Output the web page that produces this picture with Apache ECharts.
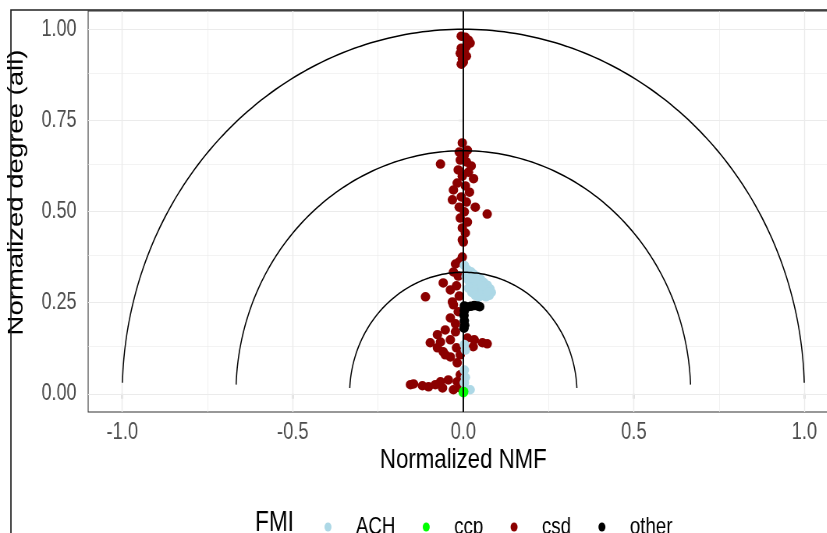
<!DOCTYPE html>
<html>
<head>
<meta charset="utf-8">
<script src="https://cdn.jsdelivr.net/npm/echarts@6/dist/echarts.min.js"></script>
<style>
  html, body { margin: 0; padding: 0; background: #ffffff; overflow: hidden; }
  #wrap { width: 827px; height: 533px; overflow: hidden; position: relative; }
  /* the figure is laid out wide and then narrowed horizontally */
  #chart { width: 1100px; height: 533px; transform: scaleX(0.78); transform-origin: 0 0; }
</style>
</head>
<body>
<div id="wrap"><div id="chart"></div></div>
<script>
const SX = 0.78; // horizontal squeeze applied to the figure

// Tick positions and gridlines
const xTicks = [-1.0, -0.5, 0.0, 0.5, 1.0];
const yTicks = [0.0, 0.25, 0.5, 0.75, 1.0];
const xMinorGrid = [-0.75, -0.25, 0.25, 0.75];
const yMinorGrid = [0.125, 0.375, 0.625, 0.875];

// Reference semicircles (radius) and the height at which each arc stops
const arcRadii = [1 / 3, 2 / 3, 1];
const arcEndHeights = [0.016, 0.025, 0.03];

// Legend order and colours
const groups = ['ACH', 'ccp', 'csd', 'other'];
const groupColors = { ACH: '#ADD8E6', ccp: '#00FF00', csd: '#8B0000', other: '#000000' };

// Points per FMI group: [normalized NMF, normalized degree]
const csdPoints = [
  [-0.006, 0.981], [0.006, 0.978], [0.015, 0.970], [0.020, 0.962], [0.009, 0.953],
  [-0.006, 0.948], [0.003, 0.940], [-0.009, 0.934], [0.009, 0.926], [-0.003, 0.918],
  [0.000, 0.910], [-0.006, 0.904],
  [-0.003, 0.688], [0.012, 0.668], [-0.012, 0.663], [0.003, 0.655], [-0.067, 0.630],
  [0.023, 0.625], [-0.009, 0.641], [0.009, 0.636], [-0.015, 0.614], [0.015, 0.608],
  [-0.003, 0.597], [0.030, 0.590], [-0.018, 0.578], [0.006, 0.570], [-0.029, 0.559],
  [0.018, 0.553], [-0.032, 0.532], [-0.006, 0.540], [0.009, 0.526], [-0.012, 0.512],
  [0.035, 0.512], [0.070, 0.493], [0.003, 0.499], [-0.009, 0.482], [0.012, 0.471],
  [-0.003, 0.455], [0.006, 0.441], [-0.003, 0.422],
  [0.000, 0.416], [-0.003, 0.375], [-0.023, 0.356], [-0.012, 0.362], [-0.029, 0.334],
  [-0.015, 0.323], [-0.059, 0.304], [-0.038, 0.285], [-0.111, 0.266], [-0.020, 0.296],
  [-0.032, 0.252], [-0.012, 0.268], [-0.029, 0.244], [-0.015, 0.225], [-0.038, 0.208],
  [-0.023, 0.192], [-0.053, 0.175], [-0.076, 0.162], [-0.023, 0.170], [-0.097, 0.140],
  [-0.038, 0.148], [-0.067, 0.142], [0.012, 0.153], [0.032, 0.148], [0.056, 0.140],
  [0.070, 0.137], [0.029, 0.129], [-0.059, 0.115], [-0.038, 0.101], [-0.009, 0.107],
  [-0.020, 0.126], [-0.076, 0.126], [-0.053, 0.107], [-0.018, 0.085], [-0.009, 0.052],
  [-0.044, 0.038], [-0.067, 0.033], [-0.082, 0.025], [-0.102, 0.019], [-0.120, 0.022],
  [-0.155, 0.025], [-0.146, 0.027], [-0.061, 0.016], [-0.029, 0.011], [-0.018, 0.033],
  [-0.009, 0.016]
];
const achPoints = [
  [0.003, 0.352], [0.012, 0.340], [0.022, 0.335], [0.030, 0.328], [0.040, 0.322],
  [0.050, 0.315], [0.060, 0.305], [0.070, 0.298], [0.078, 0.288], [0.082, 0.278],
  [0.076, 0.270], [0.066, 0.266], [0.056, 0.270], [0.046, 0.278], [0.036, 0.288],
  [0.026, 0.298], [0.016, 0.310], [0.008, 0.322], [0.015, 0.290], [0.025, 0.278],
  [0.035, 0.270], [0.045, 0.265], [0.055, 0.282], [0.065, 0.288], [0.072, 0.280],
  [0.045, 0.300], [0.035, 0.310], [0.025, 0.318], [0.055, 0.296], [0.020, 0.326],
  [0.003, 0.135], [0.006, 0.120], [0.003, 0.065], [0.006, 0.045], [0.003, 0.030],
  [0.020, 0.011], [0.006, 0.012]
];
const ccpPoints = [[0.001, 0.006], [0.000, 0.003]];
const otherPoints = [
  [0.003, 0.241], [0.012, 0.238], [0.022, 0.240], [0.032, 0.242], [0.042, 0.241],
  [0.048, 0.239], [0.003, 0.228], [0.002, 0.215], [0.003, 0.200], [0.004, 0.188],
  [0.002, 0.180]
];

// Semicircle outlines from their radii
function arcLine(r, endHeight) {
  const a0 = Math.asin(endHeight / r);
  const pts = [];
  const steps = 180;
  for (let i = 0; i <= steps; i++) {
    const a = a0 + (Math.PI - 2 * a0) * i / steps;
    pts.push([r * Math.cos(a), r * Math.sin(a)]);
  }
  return pts;
}

const FONT = 'Liberation Sans, Arial, sans-serif';
const gridColor = '#EBEBEB';
const gridLines = [];
xTicks.forEach(v => gridLines.push({ xAxis: v, lineStyle: { width: 1.3 } }));
xMinorGrid.forEach(v => gridLines.push({ xAxis: v, lineStyle: { width: 0.7 } }));
yTicks.forEach(v => gridLines.push({ yAxis: v, lineStyle: { width: 1.1 } }));
yMinorGrid.forEach(v => gridLines.push({ yAxis: v, lineStyle: { width: 0.6 } }));

const DOT = 9.5;
const pointSeries = (name, data) => ({
  name: name,
  type: 'scatter',
  data: data,
  symbol: 'circle',
  symbolSize: [DOT / SX, DOT],
  itemStyle: { color: groupColors[name], opacity: 1 },
  z: 5,
  silent: true,
  animation: false
});

const series = [
  {
    name: 'gridlines',
    type: 'scatter',
    data: [],
    silent: true,
    z: 1,
    markLine: {
      silent: true,
      z: 1,
      symbol: ['none', 'none'],
      label: { show: false },
      lineStyle: { color: gridColor, type: 'solid' },
      data: gridLines,
      animation: false
    }
  }
];
// drawing order: csd underneath, then ACH, other, ccp on top
series.push(pointSeries('csd', csdPoints));
series.push(pointSeries('ACH', achPoints));
series.push(pointSeries('other', otherPoints));
series.push(pointSeries('ccp', ccpPoints));
series.push({
  name: 'zero',
  type: 'line',
  data: [[0, -0.05], [0, 1.05]],
  showSymbol: false,
  lineStyle: { color: '#000', width: 1.9 },
  z: 7,
  silent: true,
  animation: false
});
arcRadii.forEach((r, i) => {
  series.push({
    name: 'arc' + i,
    type: 'line',
    data: arcLine(r, arcEndHeights[i]),
    showSymbol: false,
    smooth: false,
    lineStyle: { color: '#000', width: 1.5 },
    z: 7,
    silent: true,
    animation: false
  });
});

const chart = echarts.init(document.getElementById('chart'), null, { renderer: 'canvas' });
chart.setOption({
  backgroundColor: '#ffffff',
  animation: false,
  textStyle: { fontFamily: FONT },
  grid: {
    left: 113, top: 11, width: 962, height: 401,
    outerBoundsMode: 'none',
    containLabel: false,
    show: true, borderColor: '#333333', borderWidth: 1.1, backgroundColor: 'transparent'
  },
  xAxis: {
    type: 'value',
    min: -1.1, max: 1.1,
    name: 'Normalized NMF',
    nameLocation: 'middle',
    nameGap: 34,
    nameMoveOverlap: false,
    nameTextStyle: { fontSize: 28.5, color: '#000', fontFamily: FONT },
    axisLine: { show: false },
    axisTick: { show: true, length: 5, customValues: xTicks, lineStyle: { color: '#333', width: 1.3 } },
    axisLabel: { customValues: xTicks, fontSize: 23.5, color: '#4D4D4D', margin: 9,
      fontFamily: FONT, formatter: v => v.toFixed(1) },
    splitLine: { show: false },
    minorSplitLine: { show: false }
  },
  yAxis: {
    type: 'value',
    min: -0.05, max: 1.05,
    name: 'Normalized degree (all)',
    nameLocation: 'middle',
    nameGap: 78,
    nameMoveOverlap: false,
    nameTextStyle: { fontSize: 27.5, color: '#000', fontFamily: FONT, padding: [0, 0, 0, 38] },
    axisLine: { show: false },
    axisTick: { show: true, length: 6, customValues: yTicks, lineStyle: { color: '#333', width: 1.1 } },
    axisLabel: { customValues: yTicks, fontSize: 23, color: '#4D4D4D', margin: 15,
      fontFamily: FONT, formatter: v => v.toFixed(2) },
    splitLine: { show: false },
    minorSplitLine: { show: false }
  },
  legend: {
    data: groups,
    orient: 'horizontal',
    left: 411,
    top: 510,
    icon: 'circle',
    symbolKeepAspect: false,
    itemWidth: 9 / SX,
    itemHeight: 9,
    itemGap: 35,
    selectedMode: false,
    textStyle: { fontSize: 24, color: '#000', fontFamily: FONT, padding: [0, 0, 0, 25] }
  },
  graphic: [
    {
      type: 'text',
      left: 327,
      top: 508,
      style: { text: 'FMI', fontSize: 29, fill: '#000', fontFamily: FONT },
      silent: true
    },
    {
      type: 'rect',
      shape: { x: 14, y: 10, width: 1200, height: 600 },
      style: { fill: 'none', stroke: '#222', lineWidth: 1.7 },
      silent: true,
      z: 10
    }
  ],
  series: series
});
</script>
</body>
</html>
